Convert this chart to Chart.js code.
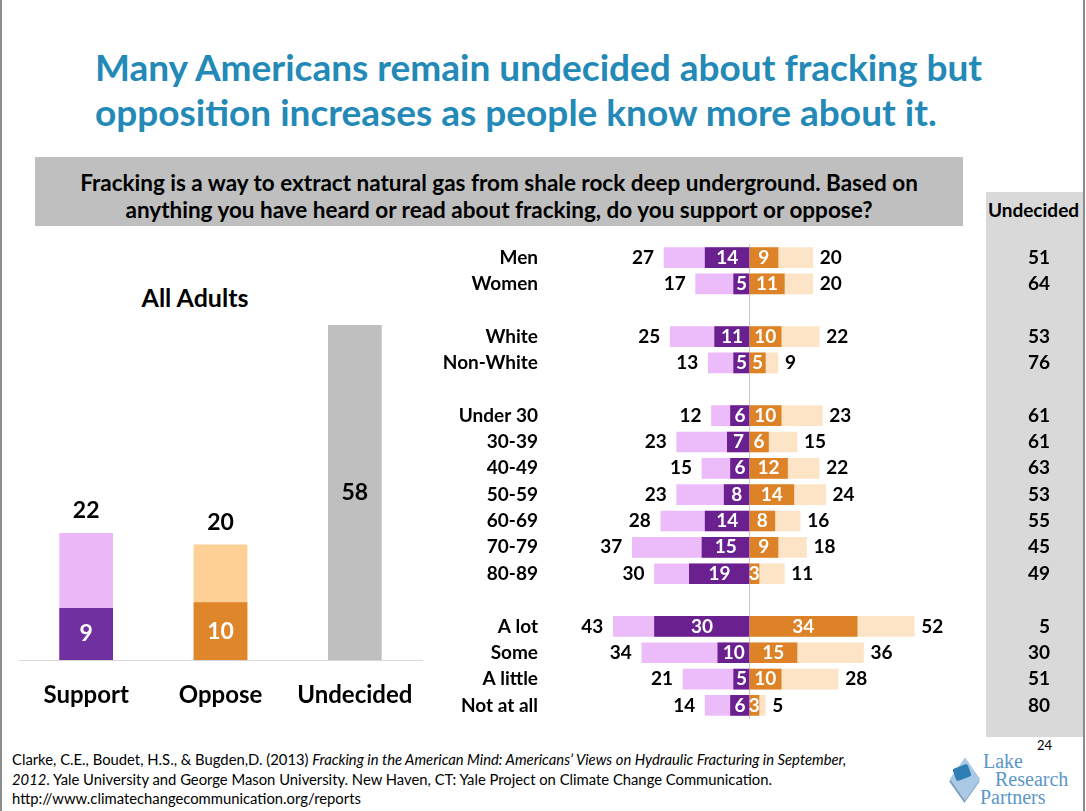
<!DOCTYPE html>
<html>
<head>
<meta charset="utf-8">
<script src="https://cdn.jsdelivr.net/npm/chart.js@4.4.0/dist/chart.umd.min.js"></script>
<style>
body { margin: 0; background: #fff; font-family: Lato, "Open Sans", sans-serif; }
#slide { position: relative; width: 1086px; height: 811px; overflow: hidden; background: #fff; }
.edge { position: absolute; top: 0; width: 2px; height: 811px; background: #8c8c8c; }
#title { position: absolute; left: 95px; top: 44px; font-size: 37px; font-weight: bold; color: #2389b7; line-height: 45px; white-space: nowrap; }
#question { position: absolute; left: 35px; top: 157px; width: 928px; height: 69px; background: #bfbfbf;
  font-size: 22.5px; font-weight: bold; text-align: center; line-height: 27px; box-sizing: border-box; padding-top: 12px; white-space: nowrap; }
#undecidedCol { position: absolute; left: 986px; top: 192px; width: 97px; height: 545px; background: #d9d9d9; }
#undecidedHead { position: absolute; left: 984px; top: 198px; width: 99px; text-align: center; font-size: 19px; font-weight: bold; }
#allAdults { position: absolute; left: 95px; top: 282px; width: 200px; text-align: center; font-size: 25px; font-weight: bold; }
canvas { position: absolute; }
#overall { left: 0; top: 280px; }
#groups { left: 430px; top: 229px; }
#source { position: absolute; left: 12px; top: 750px; font-size: 14.8px; line-height: 19.5px; color: #000; white-space: nowrap; }
#pageNum { position: absolute; left: 1037px; top: 737px; font-size: 13px; }
#logo { position: absolute; left: 944px; top: 752px; width: 130px; height: 58px; }
#pieceBase { position: absolute; left: 8px; top: 14px; width: 26px; height: 26px; background: #a9c9e6; transform: rotate(45deg) skew(10deg, 10deg); box-shadow: 1px 2px 0 #7d9fbd; }
#piece { position: absolute; left: 10px; top: 14px; width: 16px; height: 13px; background: #2f7fb5; border-radius: 2px; transform: rotate(-20deg); }
#logoText { position: absolute; left: 36px; top: 0; font-family: "Liberation Serif", serif; color: #5a96c8; font-size: 20px; line-height: 18px; white-space: nowrap; }
</style>
</head>
<body>
<div id="slide">
  <div class="edge" style="left:0"></div>
  <div class="edge" style="left:1083px"></div>
  <div id="title">Many Americans remain undecided about fracking but<br>opposition increases as people know more about it.</div>
  <div id="question">Fracking is a way to extract natural gas from shale rock deep underground. Based on<br>anything you have heard or read about fracking, do you support or oppose?</div>
  <div id="undecidedCol"></div>
  <div id="undecidedHead">Undecided</div>
  <div id="allAdults">All Adults</div>
  <canvas id="overall" width="440" height="440"></canvas>
  <canvas id="groups" width="656" height="505"></canvas>
  <div id="source">Clarke, C.E., Boudet, H.S., &amp; Bugden,D. (2013) <i>Fracking in the American Mind: Americans’ Views on Hydraulic Fracturing in September,</i><br><i>2012</i>. Yale University and George Mason University. New Haven, CT: Yale Project on Climate Change Communication.<br>http://www.climatechangecommunication.org/reports</div>
  <div id="pageNum">24</div>
  <div id="logo">
    <div id="pieceBase"></div>
    <div id="piece"></div>
    <div id="logoText"><span style="margin-left:3px">Lake</span><br><span style="margin-left:15px">Research</span><br>Partners</div>
  </div>
</div>
<script>
// All adults
const overallLabels = ['Support', 'Oppose', 'Undecided'];
const overallTotal = [22, 20, 58];
const overallStrong = [9, 10, null];

// subgroups (blank entries are spacer rows)
const groupLabels = ['Men', 'Women', '', 'White', 'Non-White', '', 'Under 30', '30-39', '40-49', '50-59', '60-69', '70-79', '80-89', '', 'A lot', 'Some', 'A little', 'Not at all'];
const supportTotal = [27, 17, null, 25, 13, null, 12, 23, 15, 23, 28, 37, 30, null, 43, 34, 21, 14];
const supportStrong = [14, 5, null, 11, 5, null, 6, 7, 6, 8, 14, 15, 19, null, 30, 10, 5, 6];
const opposeTotal = [20, 20, null, 22, 9, null, 23, 15, 22, 24, 16, 18, 11, null, 52, 36, 28, 5];
const opposeStrong = [9, 11, null, 10, 5, null, 10, 6, 12, 14, 8, 9, 3, null, 34, 15, 10, 3];
const undecided = [51, 64, null, 53, 76, null, 61, 61, 63, 53, 55, 45, 49, null, 5, 30, 51, 80];

const FONT = 'Lato';
const neg = v => (v == null ? null : -v);

const overallLabelsPlugin = {
    id: 'overallLabels',
    afterDatasetsDraw(chart) {
        const ctx = chart.ctx;
        const x = chart.scales.x, y = chart.scales.y;
        ctx.save();
        ctx.font = 'bold 23px ' + FONT;
        ctx.textAlign = 'center';
        ctx.textBaseline = 'middle';
        overallTotal.forEach((v, i) => {
            let cx = x.getPixelForValue(i);
            ctx.fillStyle = '#000';
            if (overallStrong[i] == null) {
                ctx.fillText(v, cx, (y.getPixelForValue(v) + y.getPixelForValue(0)) / 2);
            } else {
                ctx.fillText(v, cx, y.getPixelForValue(v) - 22);
                ctx.fillStyle = '#fff';
                ctx.fillText(overallStrong[i], cx, (y.getPixelForValue(overallStrong[i]) + y.getPixelForValue(0)) / 2);
            }
        });
        ctx.restore();
    }
};

new Chart(document.getElementById('overall'), {
    type: 'bar',
    data: {
        labels: overallLabels,
        datasets: [{
            label: 'Strongly',
            data: overallStrong,
            backgroundColor: ['#7030a0', '#e0862a', '#bfbfbf'],
            order: 1
        }, {
            label: 'Total',
            data: overallTotal,
            backgroundColor: ['#ebb9f9', '#fdd095', '#bfbfbf'],
            order: 2
        }]
    },
    options: {
        responsive: false,
        animation: false,
        layout: { padding: { left: 19, right: 18, top: 45, bottom: 0 } },
        datasets: { bar: { grouped: false, barPercentage: 0.4, categoryPercentage: 1 } },
        plugins: { legend: { display: false }, tooltip: { enabled: false } },
        scales: {
            x: {
                grid: { display: false, drawTicks: false },
                border: { display: true, color: '#d9d9d9', width: 1 },
                ticks: { color: '#000', font: { family: FONT, size: 24, weight: 'bold' }, padding: 21 },
                afterFit: s => { s.height = 60; }
            },
            y: { display: false, min: 0, max: 58 }
        }
    },
    plugins: [overallLabelsPlugin]
});

const groupLabelsPlugin = {
    id: 'groupLabels',
    afterDatasetsDraw(chart) {
        const ctx = chart.ctx;
        const x = chart.scales.x, y = chart.scales.y;
        const x0 = x.getPixelForValue(0);
        ctx.save();
        ctx.font = 'bold 19px ' + FONT;
        ctx.textBaseline = 'middle';
        groupLabels.forEach((lab, i) => {
            if (supportTotal[i] == null) return;
            let cy = y.getPixelForValue(i);
            ctx.fillStyle = '#000';
            ctx.textAlign = 'right';
            ctx.fillText(supportTotal[i], x.getPixelForValue(-supportTotal[i]) - 10, cy);
            ctx.textAlign = 'left';
            ctx.fillText(opposeTotal[i], x.getPixelForValue(opposeTotal[i]) + 7, cy);
            ctx.fillStyle = '#fff';
            ctx.textAlign = 'center';
            ctx.fillText(supportStrong[i], (x.getPixelForValue(-supportStrong[i]) + x0) / 2, cy);
            ctx.fillText(opposeStrong[i], (x.getPixelForValue(opposeStrong[i]) + x0) / 2, cy);
            // undecided column
            ctx.fillStyle = '#000';
            ctx.textAlign = 'right';
            ctx.fillText(undecided[i], chart.chartArea.right + 101, cy);
        });
        ctx.restore();
    }
};

new Chart(document.getElementById('groups'), {
    type: 'bar',
    data: {
        labels: groupLabels,
        datasets: [{
            label: 'Strongly support',
            data: supportStrong.map(neg),
            backgroundColor: '#6b2090',
            order: 1
        }, {
            label: 'Strongly oppose',
            data: opposeStrong,
            backgroundColor: '#dd8226',
            order: 1
        }, {
            label: 'Support',
            data: supportTotal.map(neg),
            backgroundColor: '#ebbcf9',
            order: 2
        }, {
            label: 'Oppose',
            data: opposeTotal,
            backgroundColor: '#fde4c6',
            order: 2
        }]
    },
    options: {
        indexAxis: 'y',
        responsive: false,
        animation: false,
        layout: { padding: { left: 0, right: 137, top: 4, bottom: 2 } },
        datasets: { bar: { grouped: false, barThickness: 20 } },
        plugins: { legend: { display: false }, tooltip: { enabled: false } },
        scales: {
            x: {
                min: -63, max: 63,
                ticks: { display: false },
                border: { display: false },
                grid: { color: c => (c.tick && c.tick.value === 0 ? '#c8c8c8' : 'rgba(0,0,0,0)'), drawTicks: false },
                afterBuildTicks: s => { s.ticks = [{ value: 0 }]; },
                afterFit: s => { s.height = 0; }
            },
            y: {
                grid: { display: false },
                border: { display: false },
                ticks: { color: '#000', font: { family: FONT, size: 19, weight: 'bold' }, padding: 4, autoSkip: false },
                afterFit: s => { s.width = 120; }
            }
        }
    },
    plugins: [groupLabelsPlugin]
});
</script>
</body>
</html>
